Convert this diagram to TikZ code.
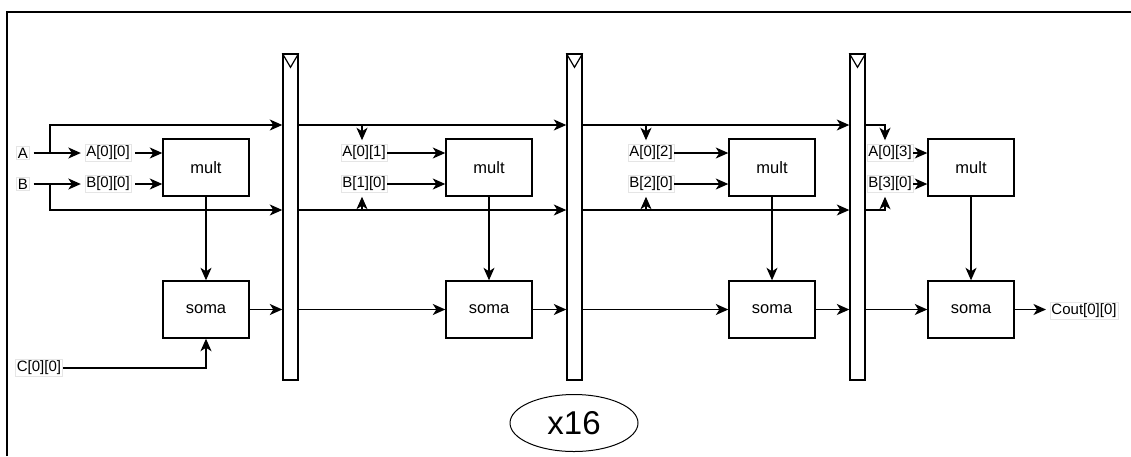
\documentclass[tikz,border=0pt]{standalone}
\usepackage{fontspec}
\setmainfont{Liberation Sans}
\usetikzlibrary{arrows.meta,shapes.geometric}
\begin{document}
\begin{tikzpicture}[x=1pt,y=-1pt,line width=1.4pt,
  arr/.style={-{Stealth[length=12.5pt,width=11pt,inset=3.5pt]}},
  lbl/.style={fill=white,draw=black!10,line width=0.5pt,inner sep=1.5pt,font=\fontsize{15}{17}\selectfont},
  gap/.style={outer sep=4pt},
  blk/.style={draw,line width=1.4pt,minimum width=86pt,minimum height=57pt,font=\fontsize{16.5}{19}\selectfont},
  reg/.style={draw,line width=1.4pt,minimum width=15pt,minimum height=326pt,inner sep=0pt},
  loop/.style={draw,line width=1pt,ellipse,minimum width=128pt,minimum height=57pt,inner sep=0pt,font=\fontsize{33}{36}\selectfont}]
\useasboundingbox (0,0) rectangle (1131,456);
% frame (only top and left visible)
\draw[line width=1.4pt] (7,456) -- (7,12) -- (1131,12);
% bus levels
\coordinate (busT) at (0,125);
\coordinate (busB) at (0,210);
% registers
\node[reg] (r1) at (290.5,217) {};
\node[reg] (r2) at (574.5,217) {};
\node[reg] (r3) at (857.5,217) {};
\foreach \r in {r1,r2,r3}
  \draw[line width=1.2pt] (\r.north west) -- ([yshift=-14pt]\r.north) -- (\r.north east);
% blocks
\node[blk] (m1) at (206,167.5) {mult};
\node[blk] (m2) at (489,167.5) {mult};
\node[blk] (m3) at (772,167.5) {mult};
\node[blk] (m4) at (971,167.5) {mult};
\node[blk] (s1) at (206,309.5) {soma};
\node[blk] (s2) at (489,309.5) {soma};
\node[blk] (s3) at (772,309.5) {soma};
\node[blk] (s4) at (971,309.5) {soma};
% labels
\node[lbl,gap] (A) at (23,153) {A};
\node[lbl,gap] (B) at (23,184) {B};
\node[lbl,gap] (a00) at (108,153) {A[0][0]};
\node[lbl,gap] (b00) at (108,184) {B[0][0]};
\node[lbl] (a01) at (364,153) {A[0][1]};
\node[lbl] (b10) at (364,184) {B[1][0]};
\node[lbl] (a02) at (651,153) {A[0][2]};
\node[lbl] (b20) at (651,184) {B[2][0]};
\node[lbl] (a03) at (890,153) {A[0][3]};
\node[lbl] (b30) at (890,184) {B[3][0]};
\node[lbl] (C) at (39,368) {C[0][0]};
\node[lbl,gap] (cout) at (1084,311) {Cout[0][0]};
\node[loop] (x16) at (574,423) {x16};
% stage 1
\coordinate (ja) at (50,153);
\coordinate (jb) at (50,184);
\draw[arr] (A) -- (a00);
\draw[arr] (B) -- (b00);
\draw[arr] (ja) |- (busT -| r1.west);
\draw[arr] (jb) |- (busB -| r1.west);
\draw[arr] (a00.east) -- (a00.east -| m1.west);
\draw[arr] (b00.east) -- (b00.east -| m1.west);
\draw[arr] (m1) -- (s1);
\draw[arr] (C.east) -| (s1.south);
\draw[arr] (s1.east) -- (s1.east -| r1.west);
% stage 2
\draw[arr] (busT -| r1.east) -- (busT -| r2.west);
\draw[arr] (busB -| r1.east) -- (busB -| r2.west);
\draw[arr,shorten >=4pt] ([xshift=-2pt]a01.north |- busT) -- ([xshift=-2pt]a01.north);
\draw[arr,shorten >=4pt] ([xshift=-2pt]b10.south |- busB) -- ([xshift=-2pt]b10.south);
\draw[arr] (a01.east) -- (a01.east -| m2.west);
\draw[arr] (b10.east) -- (b10.east -| m2.west);
\draw[arr] (m2) -- (s2);
\draw[arr] (s2.west -| r1.east) -- (s2.west);
\draw[arr] (s2.east) -- (s2.east -| r2.west);
% stage 3
\draw[arr] (busT -| r2.east) -- (busT -| r3.west);
\draw[arr] (busB -| r2.east) -- (busB -| r3.west);
\draw[arr,shorten >=4pt] ([xshift=-5pt]a02.north |- busT) -- ([xshift=-5pt]a02.north);
\draw[arr,shorten >=4pt] ([xshift=-5pt]b20.south |- busB) -- ([xshift=-5pt]b20.south);
\draw[arr] (a02.east) -- (a02.east -| m3.west);
\draw[arr] (b20.east) -- (b20.east -| m3.west);
\draw[arr] (m3) -- (s3);
\draw[arr] (s3.west -| r2.east) -- (s3.west);
\draw[arr] (s3.east) -- (s3.east -| r3.west);
% stage 4
\draw[arr,shorten >=4pt] (busT -| r3.east) -| ([xshift=-5pt]a03.north);
\draw[arr,shorten >=4pt] (busB -| r3.east) -| ([xshift=-5pt]b30.south);
\draw[arr] (a03.east) -- (a03.east -| m4.west);
\draw[arr] (b30.east) -- (b30.east -| m4.west);
\draw[arr] (m4) -- (s4);
\draw[arr] (s4.west -| r3.east) -- (s4.west);
\draw[arr] (s4.east) -- (s4.east -| cout.west);
\end{tikzpicture}
\end{document}
